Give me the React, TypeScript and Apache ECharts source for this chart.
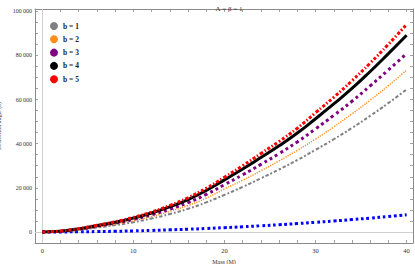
import React, { useEffect, useRef } from "react";
import * as echarts from "echarts";

const masses = [0, 2, 4, 6, 8, 10, 12, 14, 16, 18, 20, 22, 24, 26, 28, 30, 32, 34, 36, 38, 40];
const bZero = [0, 20, 80, 180, 310, 490, 700, 950, 1240, 1570, 1950, 2360, 2800, 3290, 3800, 4380, 4960, 5600, 6280, 7000, 7800];
const b1 = [0, 260, 950, 2000, 3100, 4400, 6100, 8100, 10500, 13400, 16800, 20400, 24300, 28300, 32600, 37200, 42000, 47100, 52600, 58400, 64600];
const b2 = [0, 300, 1100, 2300, 3600, 5100, 7000, 9300, 12000, 15300, 19500, 23400, 27700, 32200, 37000, 42100, 47600, 53500, 59700, 66300, 73300];
const b3 = [0, 340, 1250, 2600, 4000, 5700, 7800, 10300, 13300, 17000, 21400, 25900, 30600, 35500, 40800, 46700, 52800, 59200, 66200, 73400, 80800];
const b4 = [0, 380, 1400, 2900, 4400, 6300, 8600, 11400, 14700, 18800, 23600, 28500, 33700, 39000, 44800, 51300, 58000, 65000, 72700, 80800, 89100];
const b5 = [0, 400, 1500, 3000, 4600, 6600, 9000, 12000, 15500, 19800, 24800, 30000, 35500, 41000, 47000, 54000, 61000, 68500, 76500, 85000, 94000];
const legendNames = ["b = 1", "b = 2", "b = 3", "b = 4", "b = 5"];

const pair = (ys: number[]) => masses.map((m, i) => [m, ys[i]]);

const FONT = "'Liberation Serif', 'DejaVu Serif', serif";
const FRAME = "#8a8a8a";

export default function App() {
  const ref = useRef<HTMLDivElement>(null);
  useEffect(() => {
    if (!ref.current) return;
    const chart = echarts.init(ref.current, undefined, { renderer: "svg" });
    const axisCommon = {
      axisLine: { show: true, onZero: false, lineStyle: { color: FRAME, width: 1 } },
      axisTick: { show: true, inside: true, length: 3, lineStyle: { color: FRAME, width: 0.8 } },
      splitLine: { show: false },
    };
    const fmtY = (v: number) => {
      if (Math.abs(v % 20000) > 1e-6) return "";
      const s = String(Math.round(v));
      return s.length > 3 ? s.slice(0, s.length - 3) + "\u2009" + s.slice(s.length - 3) : s;
    };
    const fmtX = (v: number) => (Math.abs(v % 10) < 1e-6 ? String(Math.round(v)) : "");
    const line = (name: string, ys: number[], color: string, width: number, type: any, z: number, extra: any = {}) => ({
      name,
      type: "line",
      data: pair(ys),
      smooth: true,
      showSymbol: false,
      symbol: "none",
      z,
      itemStyle: { color },
      lineStyle: { color, width, type, cap: "butt" },
      ...extra,
    });
    chart.setOption({
      animation: false,
      title: {
        text: "Λ = β = 1",
        left: 224,
        top: 0,
        textAlign: "center",
        textStyle: {
          fontFamily: FONT,
          fontSize: 7,
          fontWeight: "normal",
          color: "#333",
        },
      },
      grid: { left: 35, right: 2, top: 9, bottom: 21, containLabel: false, outerBoundsMode: "none" },
      legend: {
        data: legendNames,
        orient: "vertical",
        left: 45,
        top: 17,
        icon: "circle",
        itemWidth: 8,
        itemHeight: 8,
        itemGap: 5.3,
        itemTextGap: 7,
        selectedMode: false,
        textStyle: { fontFamily: FONT, fontSize: 7.5, fontWeight: "bold", color: "#222" },
      },
      xAxis: [
        {
          type: "value",
          min: -0.8,
          max: 40.7,
          splitNumber: 20,
          position: "bottom",
          ...axisCommon,
          axisLabel: { formatter: fmtX, fontFamily: FONT, fontSize: 6.5, color: "#333", margin: 4, showMinLabel: false, showMaxLabel: false },
          name: "Mass (M)",
          nameLocation: "middle",
          nameGap: 12.5,
          nameTextStyle: { fontFamily: FONT, fontSize: 6, color: "#333" },
        },
        {
          type: "value",
          min: -0.8,
          max: 40.7,
          splitNumber: 20,
          position: "top",
          ...axisCommon,
          axisLabel: { show: false },
        },
      ],
      yAxis: [
        {
          type: "value",
          min: -5000,
          max: 101000,
          splitNumber: 20,
          position: "left",
          ...axisCommon,
          axisLabel: { formatter: fmtY, fontFamily: FONT, fontSize: 6, color: "#333", margin: 3, showMinLabel: false, showMaxLabel: false },
          name: "Deflection angle (δ̂)",
          nameLocation: "middle",
          nameGap: 21,
          nameTextStyle: { fontFamily: FONT, fontSize: 6, color: "#333", padding: 0 },
        },
        {
          type: "value",
          min: -5000,
          max: 101000,
          splitNumber: 20,
          position: "right",
          ...axisCommon,
          axisLabel: { show: false },
        },
      ],
      series: [
        line("b = 0", bZero, "#0000ff", 3, [2.8, 2.7], 2, {
          markLine: {
            silent: true,
            symbol: "none",
            label: { show: false },
            z: 1,
            lineStyle: { color: "#cfcfcf", width: 1, type: "solid" },
            data: [{ yAxis: 0 }, { xAxis: 0 }],
          },
        }),
        line("b = 1", b1, "#808080", 2, [2, 2, 3.5, 2], 3),
        line("b = 2", b2, "#ff8c1a", 1.5, [1.2, 1.3], 4),
        line("b = 3", b3, "#800080", 3, [3, 3.2], 5),
        line("b = 4", b4, "#000000", 3, "solid", 6),
        line("b = 5", b5, "#ff0000", 3, [3.2, 2, 1.5, 2], 7),
      ],
    });
    return () => chart.dispose();
  }, []);
  return <div ref={ref} style={{ width: 415, height: 264, position: "absolute", left: 0, top: 0, background: "#fff" }} />;
}
